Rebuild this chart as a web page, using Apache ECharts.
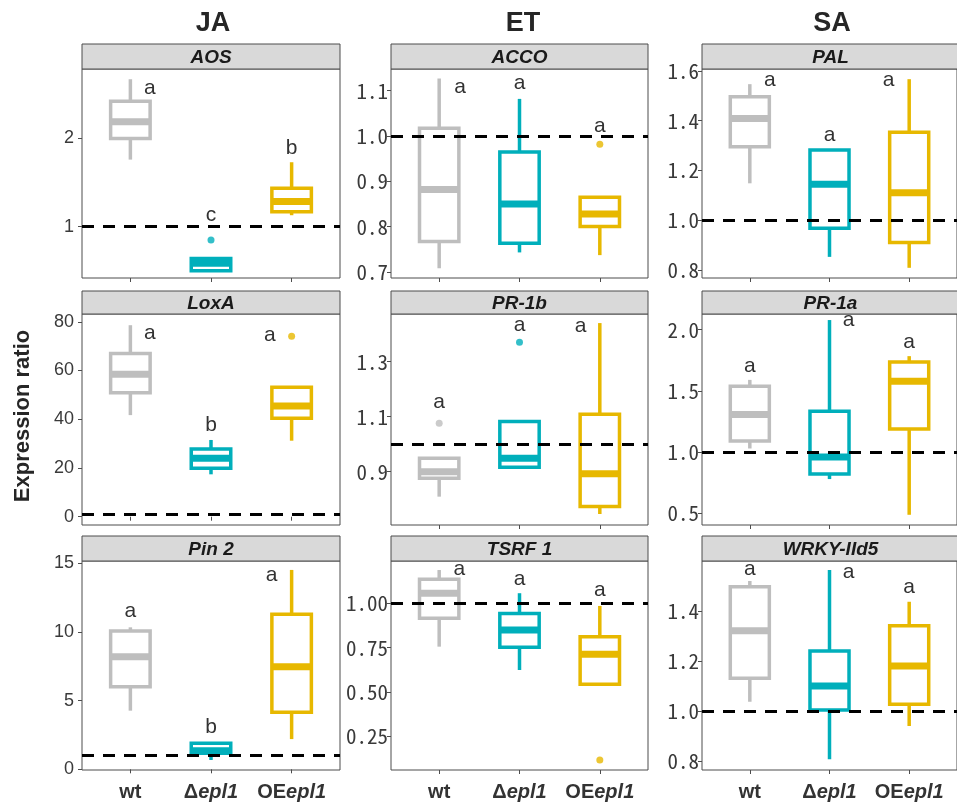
<!DOCTYPE html>
<html><head><meta charset="utf-8">
<script src="https://cdn.jsdelivr.net/npm/echarts@6/dist/echarts.min.js"></script>
<style>html,body{margin:0;padding:0;background:#fff}#c{width:957px;height:807px}</style>
</head><body><div id="c"></div>
<script>
// ---------- data ----------
const hormones = ['JA', 'ET', 'SA'];
const genes = ['AOS', 'ACCO', 'PAL', 'LoxA', 'PR-1b', 'PR-1a', 'Pin 2', 'TSRF 1', 'WRKY-IId5'];
const groupLabels = [['wt', ''], ['Δ', 'epl1'], ['OE', 'epl1']];
const yTitle = 'Expression ratio';

// box stats per group (wt, Δepl1, OEepl1): [lower whisker, Q1, median, Q3, upper whisker]
const aosBox  = [[1.76, 2.00, 2.19, 2.42, 2.67], [0.50, 0.50, 0.585, 0.64, 0.64], [1.13, 1.17, 1.285, 1.435, 1.73]];
const accoBox = [[0.708, 0.767, 0.882, 1.017, 1.127], [0.743, 0.763, 0.85, 0.965, 1.082], [0.737, 0.80, 0.828, 0.865, 0.865]];
const palBox  = [[1.148, 1.295, 1.409, 1.496, 1.547], [0.852, 0.967, 1.144, 1.282, 1.282], [0.808, 0.91, 1.11, 1.353, 1.567]];
const loxaBox = [[41.7, 50.9, 58.5, 67.0, 78.6], [17.4, 19.9, 24.0, 27.8, 31.5], [31.2, 40.4, 45.4, 53.1, 53.1]];
const pr1bBox = [[0.809, 0.876, 0.90, 0.949, 0.949], [0.91, 0.916, 0.949, 1.082, 1.082], [0.746, 0.773, 0.892, 1.109, 1.44]];
const pr1aBox = [[1.028, 1.089, 1.305, 1.536, 1.589], [0.778, 0.819, 0.958, 1.333, 2.078], [0.486, 1.188, 1.578, 1.736, 1.783]];
const pin2Box = [[4.27, 6.02, 8.2, 10.07, 10.34], [0.68, 1.17, 1.35, 1.89, 1.89], [2.2, 4.15, 7.47, 11.29, 14.52]];
const tsrfBox = [[0.755, 0.915, 1.057, 1.136, 1.188], [0.623, 0.751, 0.849, 0.943, 1.057], [0.542, 0.542, 0.712, 0.811, 0.985]];
const wrkyBox = [[1.037, 1.131, 1.321, 1.497, 1.52], [0.807, 1.004, 1.10, 1.24, 1.564], [0.94, 1.027, 1.18, 1.341, 1.437]];

// outliers: [group number, value]
const aosOut  = [[2, 0.849]];
const accoOut = [[3, 0.982]];
const palOut  = [];
const loxaOut = [[3, 74.1]];
const pr1bOut = [[1, 1.076], [2, 1.37]];
const pr1aOut = [];
const pin2Out = [];
const tsrfOut = [[3, 0.114]];
const wrkyOut = [];

// significance letters and their anchor (group position, value)
const aosLetters  = ['a', 'c', 'b'];  const aosLetterAt  = [[1.24, 2.571], [2.0, 1.132], [3.0, 1.891]];
const accoLetters = ['a', 'a', 'a'];  const accoLetterAt = [[1.26, 1.1075], [2.0, 1.116], [3.0, 1.022]];
const palLetters  = ['a', 'a', 'a'];  const palLetterAt  = [[1.25, 1.563], [2.0, 1.342], [2.74, 1.563]];
const loxaLetters = ['a', 'b', 'a'];  const loxaLetterAt = [[1.24, 75.2], [2.0, 37.6], [2.73, 74.5]];
const pr1bLetters = ['a', 'a', 'a'];  const pr1bLetterAt = [[1.0, 1.151], [2.0, 1.433], [2.76, 1.427]];
const pr1aLetters = ['a', 'a', 'a'];  const pr1aLetterAt = [[1.0, 1.70], [2.24, 2.075], [3.0, 1.894]];
const pin2Letters = ['a', 'b', 'a'];  const pin2LetterAt = [[1.0, 11.55], [2.0, 3.1], [2.75, 14.15]];
const tsrfLetters = ['a', 'a', 'a'];  const tsrfLetterAt = [[1.25, 1.192], [2.0, 1.136], [3.0, 1.075]];
const wrkyLetters = ['a', 'a', 'a'];  const wrkyLetterAt = [[1.0, 1.567], [2.24, 1.557], [3.0, 1.497]];

// y tick labels
const aosTicks  = ['1', '2'];
const accoTicks = ['0.7', '0.8', '0.9', '1.0', '1.1'];
const palTicks  = ['0.8', '1.0', '1.2', '1.4', '1.6'];
const loxaTicks = ['0', '20', '40', '60', '80'];
const pr1bTicks = ['0.9', '1.1', '1.3'];
const pr1aTicks = ['0.5', '1.0', '1.5', '2.0'];
const pin2Ticks = ['0', '5', '10', '15'];
const tsrfTicks = ['0.25', '0.50', '0.75', '1.00'];
const wrkyTicks = ['0.8', '1.0', '1.2', '1.4'];

const refLevel = 1;

// ---------- layout / style ----------
const colors = ['#BEBEBE', '#00AFBB', '#E7B800'];
const yRanges = [[0.419, 2.786], [0.6865, 1.148], [0.767, 1.608],
                 [-3.4, 83.2], [0.706, 1.473], [0.4025, 2.1275],
                 [-0.05, 15.17], [0.058, 1.239], [0.764, 1.6]];
const colLeft = [82, 391, 702], colWidth = [258, 257, 257];
const rowTop = [69, 314, 561], rowHeight = [209, 211, 209];
const stripTop = [44, 291, 536];
const headerX = [213, 523, 832];

const boxes = [aosBox, accoBox, palBox, loxaBox, pr1bBox, pr1aBox, pin2Box, tsrfBox, wrkyBox];
const outs = [aosOut, accoOut, palOut, loxaOut, pr1bOut, pr1aOut, pin2Out, tsrfOut, wrkyOut];
const letters = [aosLetters, accoLetters, palLetters, loxaLetters, pr1bLetters, pr1aLetters, pin2Letters, tsrfLetters, wrkyLetters];
const letterAt = [aosLetterAt, accoLetterAt, palLetterAt, loxaLetterAt, pr1bLetterAt, pr1aLetterAt, pin2LetterAt, tsrfLetterAt, wrkyLetterAt];
const ticks = [aosTicks, accoTicks, palTicks, loxaTicks, pr1bTicks, pr1aTicks, pin2Ticks, tsrfTicks, wrkyTicks];

function renderBox(params, api) {
  const gi = api.value(0);
  const c = colors[gi - 1];
  const hw = 0.245;
  const xL = api.coord([gi - hw, 0])[0], xR = api.coord([gi + hw, 0])[0], xC = api.coord([gi, 0])[0];
  const y = k => api.coord([gi, api.value(k)])[1];
  const yLo = y(1), yQ1 = y(2), yMed = y(3), yQ3 = y(4), yHi = y(5);
  const ls = { stroke: c, lineWidth: 3.5 };
  return { type: 'group', children: [
    { type: 'line', shape: { x1: xC, y1: yHi, x2: xC, y2: yQ3 }, style: ls },
    { type: 'line', shape: { x1: xC, y1: yQ1, x2: xC, y2: yLo }, style: ls },
    { type: 'rect', shape: { x: xL, y: yQ3, width: xR - xL, height: yQ1 - yQ3 }, style: { stroke: c, lineWidth: 3.5, fill: 'none' } },
    { type: 'line', shape: { x1: xL, y1: yMed, x2: xR, y2: yMed }, style: { stroke: c, lineWidth: 7 } }
  ]};
}
function renderLetter(params, api) {
  const p = api.coord([api.value(0), api.value(1)]);
  return { type: 'text', x: p[0], y: p[1], style: { text: params.dataIndex >= 0 ? letters[params.seriesIndex === undefined ? 0 : 0][0] : '', fill: '#333' } };
}

const grid = [], xAxis = [], yAxis = [], series = [], graphic = [];
for (let i = 0; i < 9; i++) {
  const r = Math.floor(i / 3), c = i % 3;
  grid.push({ left: colLeft[c], top: rowTop[r], width: colWidth[c], height: rowHeight[r],
    show: true, borderColor: '#4d4d4d', borderWidth: 1, backgroundColor: '#fff' });
  xAxis.push({ type: 'value', gridIndex: i, min: 0.4, max: 3.6, splitLine: { show: false },
    axisLine: { show: false },
    axisTick: { show: true, length: 4, customValues: [1, 2, 3], lineStyle: { color: '#4d4d4d' } },
    axisLabel: { show: r === 2, customValues: [1, 2, 3], margin: 12,
      formatter: v => { const g = groupLabels[Math.round(v) - 1]; return '{b|' + g[0] + '}' + (g[1] ? '{i|' + g[1] + '}' : ''); },
      rich: { b: { fontFamily: 'Liberation Sans, Arial, sans-serif', fontWeight: 'bold', fontSize: 20, color: '#333' },
              i: { fontFamily: 'Liberation Sans, Arial, sans-serif', fontWeight: 'bold', fontStyle: 'italic', fontSize: 20, color: '#333' } } } });
  const tv = ticks[i].map(Number);
  const tl = ticks[i];
  yAxis.push({ type: 'value', gridIndex: i, min: yRanges[i][0], max: yRanges[i][1], splitLine: { show: false },
    axisLine: { show: false },
    axisTick: { show: true, length: 4, customValues: tv, lineStyle: { color: '#4d4d4d' } },
    axisLabel: { customValues: tv, margin: c === 0 ? 8 : 3,
      formatter: v => { const k = tv.findIndex(t => Math.abs(t - v) < 1e-9); return k >= 0 ? tl[k] : ''; },
      fontFamily: c === 0 ? "'Liberation Sans Narrow', 'Liberation Sans', sans-serif" : "'Noto Sans Mono CJK JP', 'DejaVu Sans Mono', monospace",
      fontSize: c === 0 ? 18 : 21, color: '#3a3a3a' } });
  series.push({ type: 'custom', xAxisIndex: i, yAxisIndex: i, renderItem: renderBox, z: 3,
    data: boxes[i].map((b, g) => [g + 1].concat(b)),
    markLine: { silent: true, symbol: ['none', 'none'], z: 5, label: { show: false },
      lineStyle: { type: [12, 9], color: '#000', width: 3 }, data: [{ yAxis: refLevel }] } });
  series.push({ type: 'scatter', xAxisIndex: i, yAxisIndex: i, z: 4, symbolSize: 7,
    data: outs[i].map(o => ({ value: o, itemStyle: { color: colors[o[0] - 1] } })) });
  const lt = letters[i];
  series.push({ type: 'custom', xAxisIndex: i, yAxisIndex: i, z: 6,
    data: letterAt[i].map((p, k) => ({ value: p, name: lt[k] })),
    renderItem: (params, api) => {
      const p = api.coord([api.value(0), api.value(1)]);
      return { type: 'text', x: p[0], y: p[1], style: { text: lt[params.dataIndex], fill: '#333', fontSize: 21,
        fontFamily: 'Liberation Sans, Arial, sans-serif', align: 'center', verticalAlign: 'middle' } };
    } });
  // strip
  graphic.push({ type: 'rect', shape: { x: colLeft[c], y: stripTop[r], width: colWidth[c], height: rowTop[r] - stripTop[r] },
    style: { fill: '#d9d9d9', stroke: '#4d4d4d', lineWidth: 1 } });
  graphic.push({ type: 'text', x: colLeft[c] + colWidth[c] / 2, y: (stripTop[r] + rowTop[r]) / 2 + 1,
    style: { text: genes[i], fontFamily: 'Liberation Sans, Arial, sans-serif', fontWeight: 'bold', fontStyle: 'italic',
      fontSize: 19, fill: '#1a1a1a', align: 'center', verticalAlign: 'middle' } });
}
for (let c = 0; c < 3; c++) {
  graphic.push({ type: 'text', x: headerX[c], y: 24,
    style: { text: hormones[c], fontFamily: 'Liberation Sans, Arial, sans-serif', fontWeight: 'bold', fontSize: 27,
      fill: '#262626', align: 'center', verticalAlign: 'middle' } });
}
graphic.push({ type: 'text', x: 23, y: 416, rotation: Math.PI / 2,
  style: { text: yTitle, fontFamily: 'Liberation Sans, Arial, sans-serif', fontWeight: 'bold', fontSize: 22,
    fill: '#262626', align: 'center', verticalAlign: 'middle' } });

const chart = echarts.init(document.getElementById('c'), null, { renderer: 'canvas' });
chart.setOption({ backgroundColor: '#fff', animation: false, grid, xAxis, yAxis, series, graphic });
</script></body></html>
